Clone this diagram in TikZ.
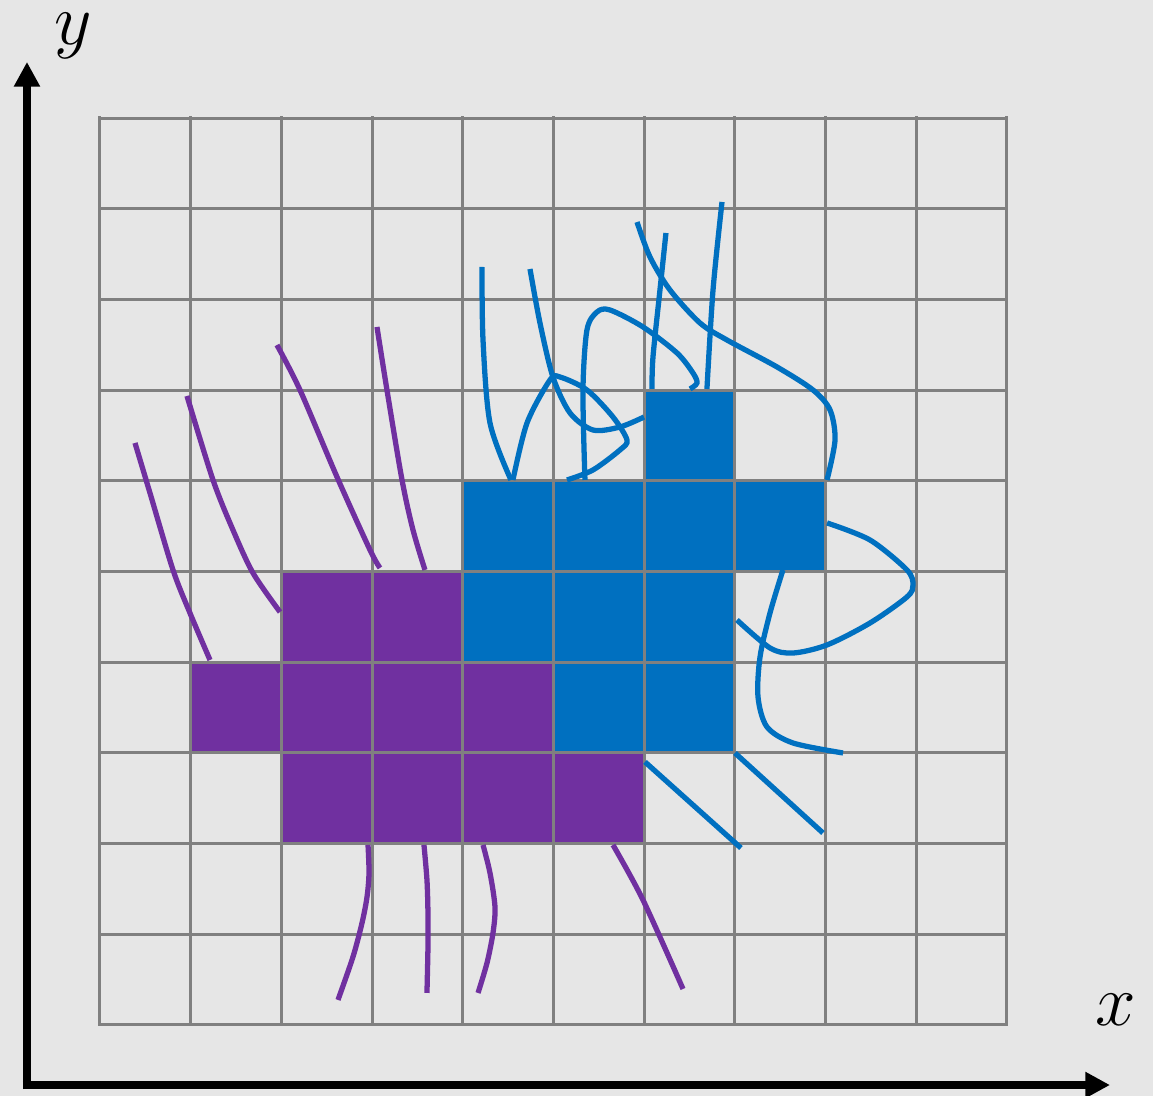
\documentclass[tikz,border=0pt]{standalone}
\usepackage{amsmath, amssymb}
\usepackage{tikz}
\usetikzlibrary{arrows.meta}
\definecolor{fieldBlue}{RGB}{0, 112, 192}
\definecolor{fieldPurple}{RGB}{112, 48, 160}
\definecolor{gridGray}{RGB}{128, 128, 128}
\definecolor{paperGray}{RGB}{230, 230, 230}

\begin{document}
\begin{tikzpicture}[x=0.907cm, y=0.907cm,
    lineBlue/.style={fieldBlue, line width=1.5pt},
    linePurple/.style={fieldPurple, line width=1.5pt},
    axis/.style={line width=2.3pt, -{Triangle[length=7pt, width=7pt]}},
    label/.style={inner sep=0pt, font=\huge}]
        \fill[paperGray] (-1.1025,-0.783) rectangle (11.61,11.301);
        \useasboundingbox (-1.1025,-0.783) rectangle (11.61,11.301);
        % filled cells
        \foreach \c/\r in {2/4,3/4,1/3,2/3,3/3,4/3,2/2,3/2,4/2,5/2}
          \fill[fieldPurple] (\c,\r) rectangle +(1,1);
        \foreach \c/\r in {6/6,4/5,5/5,6/5,7/5,4/4,5/4,6/4,5/3,6/3}
          \fill[fieldBlue] (\c,\r) rectangle +(1,1);
        \draw[gridGray, line width=0.85pt, line cap=rect, step={(1,1)}] (0,0) grid (10,10);
        % axes
        \coordinate (O) at (-0.805,-0.662);
        \draw[axis] ([yshift=-1.15pt]O) -- (-0.805,10.618);
        \draw[axis] ([xshift=-1.15pt]O) -- (11.136,-0.662);
        \node[label] (ylabel) at (-0.30,10.90) {$y$};
        \node[label] (xlabel) at (11.20,0.17) {$x$};
        % purple lines
        \draw[linePurple] plot[smooth] coordinates {(0.386,6.417) (0.551,5.866) (0.805,5.017) (0.992,4.542) (1.213,4.024)};
        \draw[linePurple] plot[smooth] coordinates {(0.959,6.935) (1.246,6.009) (1.466,5.458) (1.687,4.983) (1.985,4.553)};
        \draw[linePurple] plot[smooth] coordinates {(1.951,7.497) (2.205,7.001) (2.613,6.042) (2.977,5.237) (3.087,5.039)};
        \draw[linePurple] plot[smooth] coordinates {(3.054,7.696) (3.164,7.001) (3.330,6.009) (3.451,5.458) (3.583,5.017)};
        \draw[linePurple] plot[smooth] coordinates {(2.955,1.985) (2.966,1.676) (2.944,1.411) (2.889,1.125) (2.789,0.750) (2.624,0.276)};
        \draw[linePurple] plot[smooth] coordinates {(3.572,1.985) (3.605,1.599) (3.616,1.235) (3.616,0.860) (3.605,0.353)};
        \draw[linePurple] plot[smooth] coordinates {(4.223,1.985) (4.300,1.676) (4.355,1.301) (4.333,1.014) (4.267,0.684) (4.168,0.353)};
        \draw[linePurple] plot[smooth] coordinates {(5.656,1.985) (5.987,1.378) (6.428,0.397)};
        % blue lines
        \draw[lineBlue] plot[smooth] coordinates {(4.212,8.357) (4.223,7.552) (4.300,6.637) (4.531,6.009)};
        \draw[lineBlue] plot[smooth] coordinates {(4.553,6.009) (4.708,6.637) (4.961,7.111) (5.072,7.144) (5.369,7.001) (5.656,6.703) (5.810,6.450) (5.733,6.340) (5.435,6.119) (5.149,6.009)};
        \draw[lineBlue] plot[smooth] coordinates {(4.741,8.335) (4.851,7.740) (4.994,7.144) (5.182,6.748) (5.435,6.560) (5.733,6.593) (5.998,6.703)};
        \draw[lineBlue] plot[smooth] coordinates {(5.347,6.009) (5.325,7.001) (5.369,7.663) (5.480,7.861) (5.623,7.883) (5.987,7.696) (6.362,7.409) (6.538,7.188) (6.582,7.078) (6.505,7.012)};
        \draw[lineBlue] plot[smooth] coordinates {(6.240,8.732) (6.174,8.104) (6.097,7.365) (6.086,7.012)};
        \draw[lineBlue] plot[smooth] coordinates {(6.858,9.074) (6.759,8.104) (6.692,7.012)};
        \draw[lineBlue] plot[smooth] coordinates {(5.921,8.853) (6.064,8.467) (6.284,8.104) (6.615,7.740) (6.913,7.552) (7.464,7.255) (7.861,7.001) (8.049,6.781) (8.104,6.450) (8.016,6.009)};
        \draw[lineBlue] plot[smooth] coordinates {(8.016,5.535) (8.490,5.347) (8.897,5.017) (8.964,4.851) (8.897,4.719) (8.490,4.432) (8.016,4.190) (7.641,4.101) (7.387,4.157) (7.023,4.465)};
        \draw[lineBlue] plot[smooth] coordinates {(7.530,5.017) (7.387,4.542) (7.277,4.057) (7.255,3.616) (7.354,3.286) (7.641,3.109) (8.192,2.999)};
        \draw[lineBlue] (7.001,2.999) -- (7.971,2.117);
        \draw[lineBlue] (6.009,2.900) -- (7.067,1.951);
      \end{tikzpicture}
\end{document}
